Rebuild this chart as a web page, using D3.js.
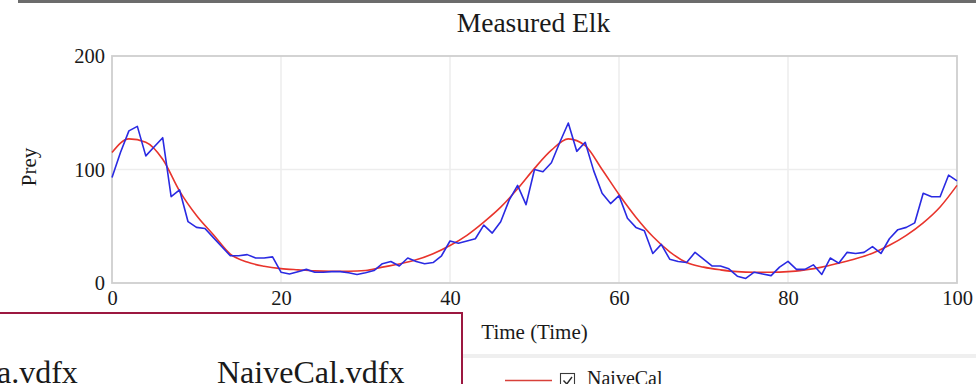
<!DOCTYPE html>
<html>
<head>
<meta charset="utf-8">
<script src="https://cdn.jsdelivr.net/npm/d3@7"></script>
<style>
  html, body { margin: 0; padding: 0; background: #fff; }
  svg { display: block; }
  text { font-family: "Liberation Serif", "Times New Roman", serif; fill: #1a1a1a; }
</style>
</head>
<body>
<svg id="chart" width="976" height="384"></svg>
<script>
// Measured elk (prey) counts, one per time unit 0..100
const measuredTime = d3.range(0, 101);
const measuredElk = [
  93, 115, 134, 138, 112, 120, 128, 76, 82, 54,
  49, 48, 40, 32, 24, 24, 25, 22, 22, 23,
  9.5, 8, 10, 12, 9.5, 9.5, 10, 10, 9, 7.5,
  9, 11, 17, 19, 15, 22, 19, 17, 18, 24,
  37, 35, 37, 39, 51, 44, 54, 73, 86, 69,
  100, 98, 106, 124, 141, 116, 124, 99, 79, 70,
  77, 57, 49, 46, 26, 34, 21, 19, 18, 27,
  21, 15, 15, 12.5, 6, 4, 9.5, 8, 6.5, 14,
  19, 12, 12, 16, 7.5, 22, 17.5, 27, 26, 27,
  32, 26, 39, 47, 49, 53, 79, 76, 76, 95,
  90
];

// NaiveCal simulated prey, sampled every 2 time units
const naiveTime = d3.range(0, 101, 2);
const naiveCal = [
  115, 127, 124, 109, 81, 59.5, 42.5, 25.5, 18.4, 14.8,
  12.7, 11.6, 10.7, 10.4, 10.4, 11, 14, 16.7, 20.4, 25.8,
  33, 42, 53.6, 66.8, 83, 101, 117, 127, 121, 100,
  78, 58, 41, 27.5, 18, 14, 11.6, 10, 9.5, 9.5,
  10, 11.6, 14, 17.5, 21.3, 26.3, 33.2, 42, 53, 67,
  86
];

const xTicks = [0, 20, 40, 60, 80, 100];
const yTicks = [0, 100, 200];

const chartTitle = "Measured Elk";
const xLabel = "Time (Time)";
const yLabel = "Prey";
const legendLabel = "NaiveCal";
const fileNames = ["a.vdfx", "NaiveCal.vdfx"];

const svg = d3.select("#chart");

const plot = { left: 112, right: 957, top: 56, bottom: 283 };

const x = d3.scaleLinear().domain([0, 100]).range([plot.left, plot.right]);
const y = d3.scaleLinear().domain([0, 200]).range([plot.bottom, plot.top]);

// window strip at the very top
svg.append("rect")
  .attr("x", 18).attr("y", 0).attr("width", 958).attr("height", 3)
  .attr("fill", "#6c6c6c");

// title
svg.append("text")
  .attr("x", (plot.left + plot.right) / 2 - 1).attr("y", 32)
  .attr("text-anchor", "middle")
  .attr("font-size", 27.5)
  .text(chartTitle);

// grid
const grid = svg.append("g");
grid.selectAll("line.vx")
  .data(xTicks.filter(d => d > 0 && d < 100))
  .join("line")
  .attr("x1", d => x(d)).attr("x2", d => x(d))
  .attr("y1", plot.top).attr("y2", plot.bottom)
  .attr("stroke", "#ededed").attr("stroke-width", 1.5);
grid.selectAll("line.hy")
  .data(yTicks.filter(d => d > 0 && d < 200))
  .join("line")
  .attr("x1", plot.left).attr("x2", plot.right)
  .attr("y1", d => y(d)).attr("y2", d => y(d))
  .attr("stroke", "#ededed").attr("stroke-width", 1.5);

// plot frame
svg.append("rect")
  .attr("x", plot.left).attr("y", plot.top)
  .attr("width", plot.right - plot.left).attr("height", plot.bottom - plot.top)
  .attr("fill", "none").attr("stroke", "#cfcfcf").attr("stroke-width", 1.8);

// axes (labels only)
const yAxis = svg.append("g")
  .attr("transform", `translate(${plot.left},0)`)
  .call(d3.axisLeft(y).tickValues(yTicks).tickSize(0).tickPadding(7));
const xAxis = svg.append("g")
  .attr("transform", `translate(0,${plot.bottom})`)
  .call(d3.axisBottom(x).tickValues(xTicks).tickSize(0).tickPadding(7));
[yAxis, xAxis].forEach(g => {
  g.select(".domain").remove();
  g.selectAll("text")
    .attr("font-size", 20.5)
    .attr("font-family", '"Liberation Serif", "Times New Roman", serif')
    .attr("fill", "#1a1a1a");
});

// axis titles
svg.append("text")
  .attr("transform", `translate(36,167) rotate(-90)`)
  .attr("text-anchor", "middle")
  .attr("font-size", 21)
  .text(yLabel);
svg.append("text")
  .attr("x", (plot.left + plot.right) / 2).attr("y", 339)
  .attr("text-anchor", "middle")
  .attr("font-size", 21)
  .text(xLabel);

// series
const naiveLine = d3.line()
  .x((d, i) => x(naiveTime[i]))
  .y(d => y(d))
  .curve(d3.curveMonotoneX);
const measuredLine = d3.line()
  .x((d, i) => x(measuredTime[i]))
  .y(d => y(d));

svg.append("path")
  .datum(naiveCal)
  .attr("d", naiveLine)
  .attr("fill", "none")
  .attr("stroke", "#e8342c")
  .attr("stroke-width", 1.6);
svg.append("path")
  .datum(measuredElk)
  .attr("d", measuredLine)
  .attr("fill", "none")
  .attr("stroke", "#2a2ae2")
  .attr("stroke-width", 1.6)
  .attr("stroke-linejoin", "round");

// legend separator
svg.append("rect")
  .attr("x", 463).attr("y", 354).attr("width", 513).attr("height", 4)
  .attr("fill", "#efefef");

// legend entry
const legend = svg.append("g");
legend.append("line")
  .attr("x1", 505).attr("x2", 552).attr("y1", 380.5).attr("y2", 380.5)
  .attr("stroke", "#d8403a").attr("stroke-width", 1.6);
legend.append("rect")
  .attr("x", 560.5).attr("y", 373.5).attr("width", 14).attr("height", 14)
  .attr("fill", "#fff").attr("stroke", "#3a3a3a").attr("stroke-width", 1.1);
legend.append("path")
  .attr("d", "M563.5,380.5 L566.8,384 L572,377")
  .attr("fill", "none").attr("stroke", "#2a2a2a").attr("stroke-width", 1.4);
legend.append("text")
  .attr("x", 587).attr("y", 384.5)
  .attr("font-size", 20)
  .text(legendLabel);

// file panel laid over the lower left
const panel = svg.append("g");
panel.append("rect")
  .attr("x", -2).attr("y", 313).attr("width", 464).attr("height", 90)
  .attr("fill", "#fff").attr("stroke", "#9c1840").attr("stroke-width", 2);
panel.append("text")
  .attr("x", -3).attr("y", 383)
  .attr("font-size", 32)
  .text(fileNames[0]);
panel.append("text")
  .attr("x", 217).attr("y", 383)
  .attr("font-size", 32)
  .text(fileNames[1]);
</script>
</body>
</html>
